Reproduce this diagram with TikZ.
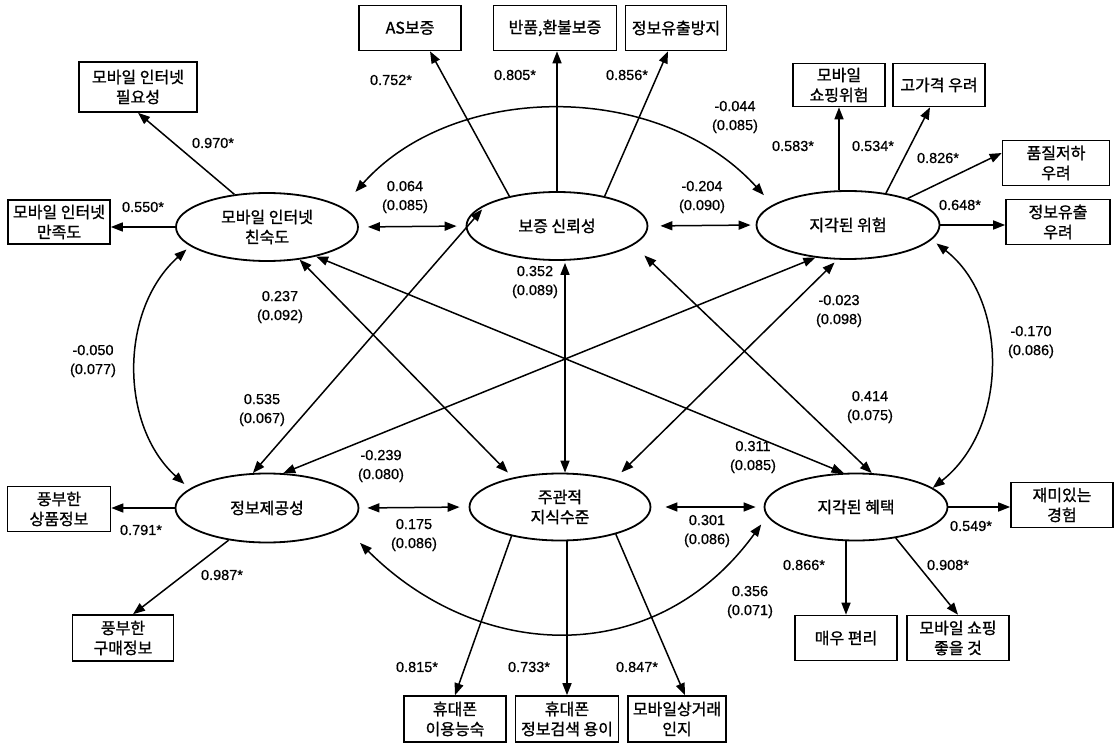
\documentclass[tikz,border=0pt]{standalone}
\usepackage{fontspec}
\setmainfont[FakeBold=0.6]{Liberation Sans}
\newfontfamily\kr[FakeBold=1.2]{Noto Sans CJK KR}
\usetikzlibrary{arrows.meta,shapes.geometric}
\tikzset{
  latent/.style={
    ellipse, draw, line width=1.8pt,
    minimum width=182pt, minimum height=68pt, inner sep=0pt,
    align=center, font=\kr\fontsize{16}{20}\selectfont,
  },
  obs/.style={
    rectangle, draw, line width=1.6pt,
    minimum width=102pt, minimum height=45pt, inner sep=1pt,
    align=center, font=\kr\fontsize{16}{20}\selectfont,
  },
  coef/.style={font=\fontsize{14.5}{19}\selectfont, align=center, inner sep=0pt},
  arr/.style={-{Triangle[length=12pt,width=9pt]}, line width=1.5pt},
  corr/.style={{Triangle[length=12pt,width=9pt]}-{Triangle[length=12pt,width=9pt]}, line width=1.5pt},
}

\begin{document}
\begin{tikzpicture}[x=1pt,y=1pt]
\useasboundingbox (0,0) rectangle (1116,-743);

% latent factors
\node[latent] (fam) at (267,-227) {모바일 인터넷\\친숙도};
\node[latent, minimum width=181pt] (guar) at (557,-226) {보증 신뢰성};
\node[latent, minimum width=183pt] (risk) at (848,-225) {지각된 위험};
\node[latent, minimum width=183pt, minimum height=69pt] (info) at (267,-508) {정보제공성};
\node[latent, minimum width=181pt, minimum height=67pt] (subj) at (560,-507) {주관적\\지식수준};
\node[latent, minimum width=183pt, minimum height=67pt] (bene) at (856,-507) {지각된 혜택};

% indicators
\node[obs, minimum width=118pt, minimum height=50pt] (need) at (138,-87) {모바일 인터넷\\필요성};
\node[obs, minimum height=44pt] (sat) at (59,-222) {모바일 인터넷\\만족도};
\node[obs] (as) at (410,-28) {AS보증};
\node[obs, minimum width=123pt] (ret) at (555,-28) {반품,환불보증};
\node[obs, minimum width=101pt] (leak) at (676,-28) {정보유출방지};
\node[obs, minimum width=92pt, minimum height=43pt] (shop) at (839,-85) {모바일\\쇼핑위험};
\node[obs, minimum width=92pt, minimum height=43pt] (price) at (939,-85) {고가격 우려};
\node[obs, minimum width=107pt] (qual) at (1056,-163) {품질저하\\우려};
\node[obs, minimum width=104pt] (priv) at (1058,-222) {정보유출\\우려};
\node[obs, minimum width=103pt] (goods) at (59,-509) {풍부한\\상품정보};
\node[obs, minimum width=101pt, minimum height=46pt] (buy) at (123,-638) {풍부한\\구매정보};
\node[obs, minimum height=46pt] (skill) at (455,-719) {휴대폰\\이용능숙};
\node[obs, minimum width=103pt, minimum height=46pt] (search) at (567,-719) {휴대폰\\정보검색 용이};
\node[obs, minimum width=98pt, minimum height=46pt] (aware) at (677,-719) {모바일상거래\\인지};
\node[obs] (conv) at (846,-638) {매우 편리};
\node[obs] (good) at (958,-638) {모바일 쇼핑\\좋을 것};
\node[obs] (fun) at (1062,-505) {재미있는\\경험};

% loadings
\draw[arr] (fam.135) -- (need.south);
\draw[arr] (fam.west) -- (fam.west -| sat.east);
\draw[arr] (guar.148) -- ([xshift=20pt]as.south);
\draw[arr] (guar.north) -- (guar.north |- ret.south);
\draw[arr] (guar.32) -- ([xshift=-8pt]leak.south);
\draw[arr] (shop.south |- risk.north) -- (shop.south);
\draw[arr] (risk.40) -- ([xshift=-9pt]price.south);
\draw[arr] (risk.24) -- ([yshift=10pt]qual.west);
\draw[arr] (risk.east) -- (risk.east -| priv.west);
\draw[arr] (info.west) -- (info.west -| goods.east);
\draw[arr] (info.220) -- ([xshift=10pt]buy.north);
\draw[arr] (subj.211) -- (skill.north);
\draw[arr] (search.north |- subj.south) -- (search.north);
\draw[arr] (subj.334) -- ([xshift=8pt]aware.north);
\draw[arr] (bene.east) -- (bene.east -| fun.west);
\draw[arr] (conv.north |- bene.south) -- (conv.north);
\draw[arr] (bene.322) -- (good.north);

% correlations
\draw[corr, shorten <=9pt, shorten >=9pt] (fam.east) -- (guar.west);
\draw[corr, shorten <=12pt, shorten >=5pt] (guar.east) -- (risk.west);
\draw[corr, shorten <=8pt, shorten >=9pt] (info.east) -- (subj.west);
\draw[corr, shorten <=14pt, shorten >=8pt] (subj.east) -- (bene.west);
\draw[corr, shorten <=2pt] ([xshift=8pt]guar.south) -- ([xshift=5pt]subj.north);
\draw[corr, shorten >=7pt] (fam.-45) -- (subj.148);
\draw[corr] (fam.-31) -- (bene.110);
\draw[corr, shorten >=8pt] (info.112) -- (guar.162);
\draw[corr, shorten <=15pt] (guar.-14) -- (bene.65);
\draw[corr] (risk.225) -- (info.65);
\draw[corr, shorten <=4pt, shorten >=10pt] (risk.253) -- (subj.27);
\draw[corr, shorten <=20pt, shorten >=13pt] (fam.15) to[bend left=48] (risk.165);
\draw[corr, shorten <=5pt, shorten >=7pt] (fam.194) to[bend right=48] (info.166);
\draw[corr, shorten <=6pt] (risk.-10) to[bend left=52] (bene.14);
\draw[corr, shorten <=22pt, shorten >=10pt] (info.-14) to[out=-45, in=234, looseness=1.15] (bene.186);

% coefficients
\node[coef] (kNeed) at (213,-143) {0.970*};
\node[coef] (kSat) at (143,-207) {0.550*};
\node[coef] (kAs) at (391,-80) {0.752*};
\node[coef] (kRet) at (515,-75) {0.805*};
\node[coef] (kLeak) at (627,-75) {0.856*};
\node[coef] (kShop) at (793,-146) {0.583*};
\node[coef] (kPrice) at (873,-146) {0.534*};
\node[coef] (kQual) at (938,-158) {0.826*};
\node[coef] (kPriv) at (960,-205) {0.648*};
\node[coef] (kGoods) at (141,-530) {0.791*};
\node[coef] (kBuy) at (222,-575) {0.987*};
\node[coef] (kSkill) at (417,-667) {0.815*};
\node[coef] (kSearch) at (529,-667) {0.733*};
\node[coef] (kAware) at (637,-667) {0.847*};
\node[coef] (kConv) at (804,-565) {0.866*};
\node[coef] (kGood) at (948,-565) {0.908*};
\node[coef] (kFun) at (971,-526) {0.549*};

\node[coef] (rFamRisk) at (735,-117) {-0.044\\(0.085)};
\node[coef] (rFamGuar) at (405,-197) {0.064\\(0.085)};
\node[coef] (rGuarRisk) at (702,-197) {-0.204\\(0.090)};
\node[coef] (rFamSubj) at (280,-307) {0.237\\(0.092)};
\node[coef] (rGuarSubj) at (535,-282) {0.352\\(0.089)};
\node[coef] (rRiskSubj) at (839,-311) {-0.023\\(0.098)};
\node[coef] (rFamInfo) at (93,-361) {-0.050\\(0.077)};
\node[coef] (rRiskBene) at (1031,-342) {-0.170\\(0.086)};
\node[coef] (rInfoGuar) at (262,-410) {0.535\\(0.067)};
\node[coef] (rGuarBene) at (870,-407) {0.414\\(0.075)};
\node[coef] (rRiskInfo) at (381,-466) {-0.239\\(0.080)};
\node[coef] (rFamBene) at (753,-457) {0.311\\(0.085)};
\node[coef] (rInfoSubj) at (414,-535) {0.175\\(0.086)};
\node[coef] (rSubjBene) at (707,-531) {0.301\\(0.086)};
\node[coef] (rInfoBene) at (750,-602) {0.356\\(0.071)};

\end{tikzpicture}
\end{document}
